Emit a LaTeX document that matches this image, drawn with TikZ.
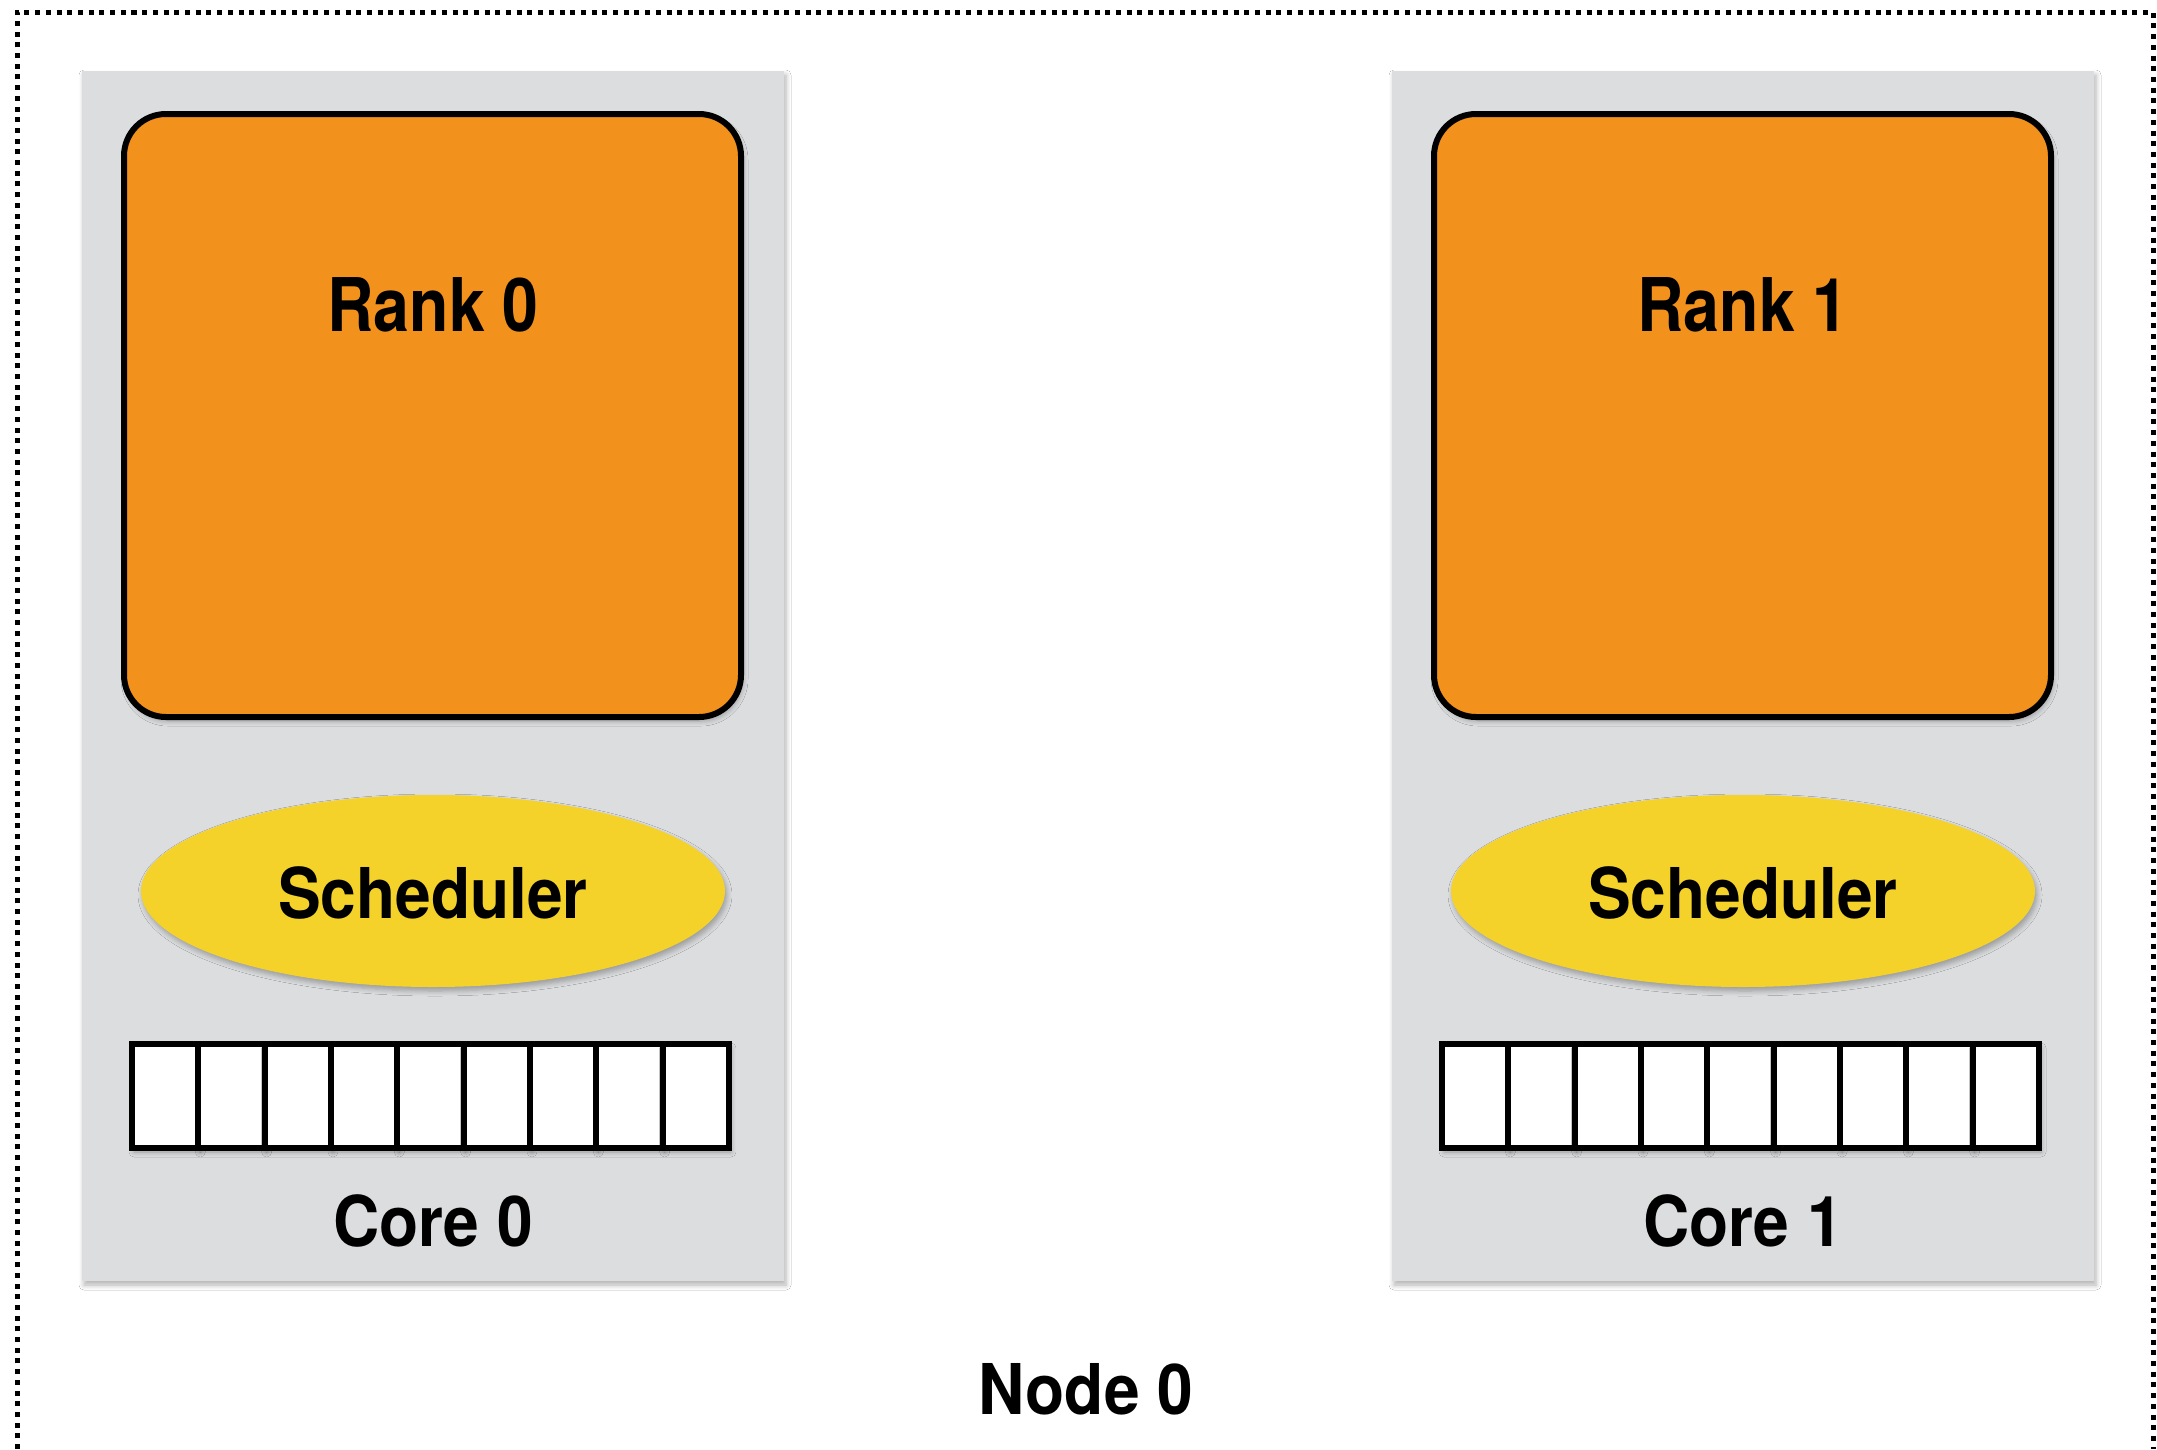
\documentclass[tikz,border=0pt]{standalone}
\usepackage{fontspec}
\setmainfont{TeX Gyre Heros}[FakeStretch=0.915]
\newfontfamily\rankfont{TeX Gyre Heros}[FakeStretch=0.87]
\usetikzlibrary{shapes.geometric,shadows.blur}
\definecolor{panelgray}{RGB}{220,221,223}
\definecolor{rankorange}{RGB}{242,145,27}
\definecolor{schedyellow}{RGB}{244,210,41}
\tikzset{
  shade/.style={blur shadow={shadow xshift=2pt, shadow yshift=-4pt, shadow opacity=30, shadow blur radius=5pt, shadow blur steps=6}},
  panel/.style={fill=panelgray, draw=none, minimum width=702pt, minimum height=1210pt, inner sep=0pt, shade},
  rankbox/.style={fill=rankorange, draw=black, line width=6pt, rounded corners=42pt, minimum width=617pt, minimum height=603pt, inner sep=0pt, shade},
  sched/.style={ellipse, fill=schedyellow, draw=none, minimum width=584pt, minimum height=192pt, inner sep=0pt, shade},
  cell/.style={rectangle, fill=white, draw=black, line width=6pt, minimum width=66.3pt, minimum height=104pt, inner sep=0pt, shade},
  frame/.style={line width=5pt, dash pattern=on 5pt off 5.7pt},
  bigtext/.style={font=\rankfont\fontsize{74}{80}\selectfont\bfseries, inner sep=0pt},
  midtext/.style={font=\fontsize{70}{76}\selectfont\bfseries, inner sep=0pt}
}
\begin{document}
\begin{tikzpicture}[x=1pt,y=-1pt]
\useasboundingbox (0,0) rectangle (2157,1449);
\fill[white] (0,0) rectangle (2157,1449);
\draw[frame] (17,1449) -- (17,12) -- (2153,12) -- (2153,1449);

\foreach \i/\dx in {0/0,1/1310} {
  \node[panel] (core\i) at (433+\dx,676) {};
  \node[rankbox] (rank\i) at (432.5+\dx,415.5) {};
  \node[bigtext] (ranklabel\i) at (433+\dx,305) {Rank \i};
  \node[sched] (sched\i) at (433+\dx,891) {};
  \node[midtext] (schedlabel\i) at (433+\dx,893) {Scheduler};
  \foreach \k in {1,...,9} {
    \node[cell] (cell\i-\k) at ({132+\dx+(\k-0.5)*66.33},1096) {};
  }
  \node[midtext] (corelabel\i) at (433+\dx,1221) {Core \i};
}
\node[midtext] (nodelabel) at (1086,1389) {Node 0};
\end{tikzpicture}
\end{document}
